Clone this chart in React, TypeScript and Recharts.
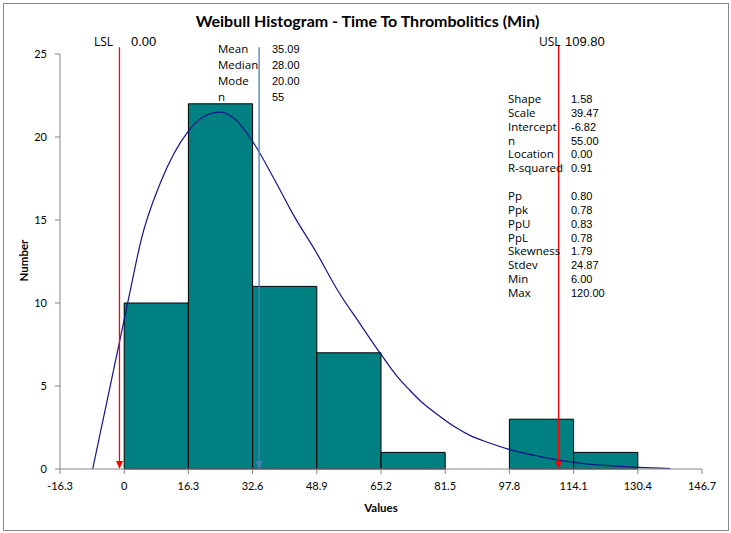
import { ComposedChart, Line, XAxis, YAxis, ReferenceArea, ReferenceLine } from 'recharts';

// histogram bins (start of each bin, width 16.3) and counts
const binStarts = [0, 16.3, 32.6, 48.9, 65.2, 81.5, 97.8, 114.1];
const binCounts = [10, 22, 11, 7, 1, 0, 3, 1];
const binWidth = 16.3;

// fitted weibull curve
const curveX = [-8.0, -4.0, 0, 2.1, 4.2, 9.3, 16.1, 20, 24.4, 28, 32.7, 38, 43.1, 48.9, 54.1, 60, 65.2, 69.4, 72.3, 75.3, 79.5, 83.7, 87.9, 92.2, 97.9, 100.6, 105, 110.4, 114.2, 122, 130.6, 138.7];
const curveY = [0, 4.5, 9.0, 11.4, 13.7, 17.3, 20.3, 21.2, 21.5, 21.1, 19.7, 17.5, 15.25, 13.0, 10.8, 8.7, 6.9, 5.55, 4.8, 4.08, 3.28, 2.57, 2.01, 1.61, 1.17, 1.0, 0.78, 0.54, 0.4, 0.22, 0.1, 0.03];

const xTicks = [-16.3, 0, 16.3, 32.6, 48.9, 65.2, 81.5, 97.8, 114.1, 130.4, 146.7];
const yTicks = [0, 5, 10, 15, 20, 25];

// where the marker lines sit in the picture
const lslPos = -1.2;
const meanPos = 34.25;
const uslPos = 110.3;

const meanLabels = ['Mean', 'Median', 'Mode', 'n'];
const meanValues = ['35.09', '28.00', '20.00', '55'];

const fitLabels = ['Shape', 'Scale', 'Intercept', 'n', 'Location', 'R-squared', '', 'Pp', 'Ppk', 'PpU', 'PpL', 'Skewness', 'Stdev', 'Min', 'Max'];
const fitValues = ['1.58', '39.47', '-6.82', '55.00', '0.00', '0.91', '', '0.80', '0.78', '0.83', '0.78', '1.79', '24.87', '6.00', '120.00'];

const curveData = curveX.map((x, i) => ({ x, y: curveY[i] }));

const arrowLine = (color: string) => (p: any) => {
  const x = p.x1;
  const top = Math.min(p.y1, p.y2);
  const bottom = Math.max(p.y1, p.y2);
  return (
    <g>
      <line x1={x} y1={top} x2={x} y2={bottom - 4} stroke={color} strokeWidth={1.3} />
      <polygon points={`${x - 3.5},${bottom - 8} ${x + 3.5},${bottom - 8} ${x},${bottom}`} fill={color} />
    </g>
  );
};

const labelFont = '"Open Sans", sans-serif';
const numFont = '"Liberation Sans", Arial, sans-serif';

export default function App() {
  return (
    <div style={{ position: 'relative', width: 731, height: 533, background: '#fff' }}>
      <style>{'body{margin:0}'}</style>
      <div style={{ position: 'absolute', left: 3, top: 3, width: 724, height: 526, border: '1px solid #888' }} />
      <ComposedChart width={731} height={533} margin={{ top: 54, right: 29, left: 0, bottom: 0 }} style={{ position: 'absolute', left: 0, top: 0 }}>
        <XAxis
          dataKey="x"
          type="number"
          domain={[-16.3, 146.7]}
          ticks={xTicks}
          allowDataOverflow
          height={64}
          tickSize={5}
          tickMargin={8}
          stroke="#868686"
          tick={{ fill: '#000', fontSize: 11, fontFamily: 'Lato, sans-serif' }}
        />
        <YAxis
          type="number"
          domain={[0, 25]}
          ticks={yTicks}
          width={60}
          tickSize={5}
          tickMargin={8}
          stroke="#868686"
          tick={{ fill: '#000', fontSize: 11, fontFamily: 'Lato, sans-serif' }}
        />
        {binStarts.map((s, i) =>
          binCounts[i] > 0 ? (
            <ReferenceArea
              key={i}
              x1={s}
              x2={s + binWidth}
              y1={0}
              y2={binCounts[i]}
              fill="#008080"
              fillOpacity={1}
              stroke="#000"
              strokeWidth={1}
            />
          ) : null
        )}
        <Line data={curveData} dataKey="y" type="monotone" stroke="#14148a" strokeWidth={1.2} dot={false} isAnimationActive={false} />
        <ReferenceLine segment={[{ x: lslPos, y: 0 }, { x: lslPos, y: 25.4 }]} ifOverflow="visible" shape={arrowLine('#ff0000')} />
        <ReferenceLine segment={[{ x: meanPos, y: 0 }, { x: meanPos, y: 25.4 }]} ifOverflow="visible" shape={arrowLine('#4a7ebb')} />
        <ReferenceLine segment={[{ x: uslPos, y: 0 }, { x: uslPos, y: 25.5 }]} ifOverflow="visible" shape={arrowLine('#ff0000')} />
      </ComposedChart>

      <div style={{ position: 'absolute', left: 0, width: 731, top: 11, textAlign: 'center', paddingLeft: 2, fontFamily: 'Lato, sans-serif', fontWeight: 'bold', fontSize: 16 }}>
        Weibull Histogram - Time To Thrombolitics (Min)
      </div>

      <div style={{ position: 'absolute', left: 94, top: 33, fontFamily: labelFont, fontSize: 12 }}>LSL</div>
      <div style={{ position: 'absolute', left: 131, top: 34, fontFamily: numFont, fontSize: 13 }}>0.00</div>
      <div style={{ position: 'absolute', left: 539, top: 33, fontFamily: labelFont, fontSize: 12 }}>USL</div>
      <div style={{ position: 'absolute', left: 565, top: 34, fontFamily: numFont, fontSize: 13 }}>109.80</div>

      {meanLabels.map((t, i) => (
        <div key={t} style={{ position: 'absolute', left: 218, top: 41 + i * 16, fontFamily: labelFont, fontSize: 11.5, lineHeight: '16px' }}>{t}</div>
      ))}
      {meanValues.map((t, i) => (
        <div key={i} style={{ position: 'absolute', left: 272, top: 41 + i * 16, fontFamily: numFont, fontSize: 11, lineHeight: '16px' }}>{t}</div>
      ))}

      {fitLabels.map((t, i) => (
        <div key={i} style={{ position: 'absolute', left: 508, top: 92 + i * 13.86, fontFamily: labelFont, fontSize: 11.5, lineHeight: '14px' }}>{t}</div>
      ))}
      {fitValues.map((t, i) => (
        <div key={i} style={{ position: 'absolute', left: 571, top: 92 + i * 13.86, fontFamily: numFont, fontSize: 11, lineHeight: '14px' }}>{t}</div>
      ))}

      <div style={{ position: 'absolute', left: 331, width: 100, top: 501, textAlign: 'center', fontFamily: 'Lato, sans-serif', fontWeight: 'bold', fontSize: 11.5 }}>Values</div>
      <div style={{ position: 'absolute', left: -27, width: 100, top: 254, textAlign: 'center', transform: 'rotate(-90deg)', fontFamily: 'Lato, sans-serif', fontWeight: 'bold', fontSize: 11.5 }}>Number</div>
    </div>
  );
}
